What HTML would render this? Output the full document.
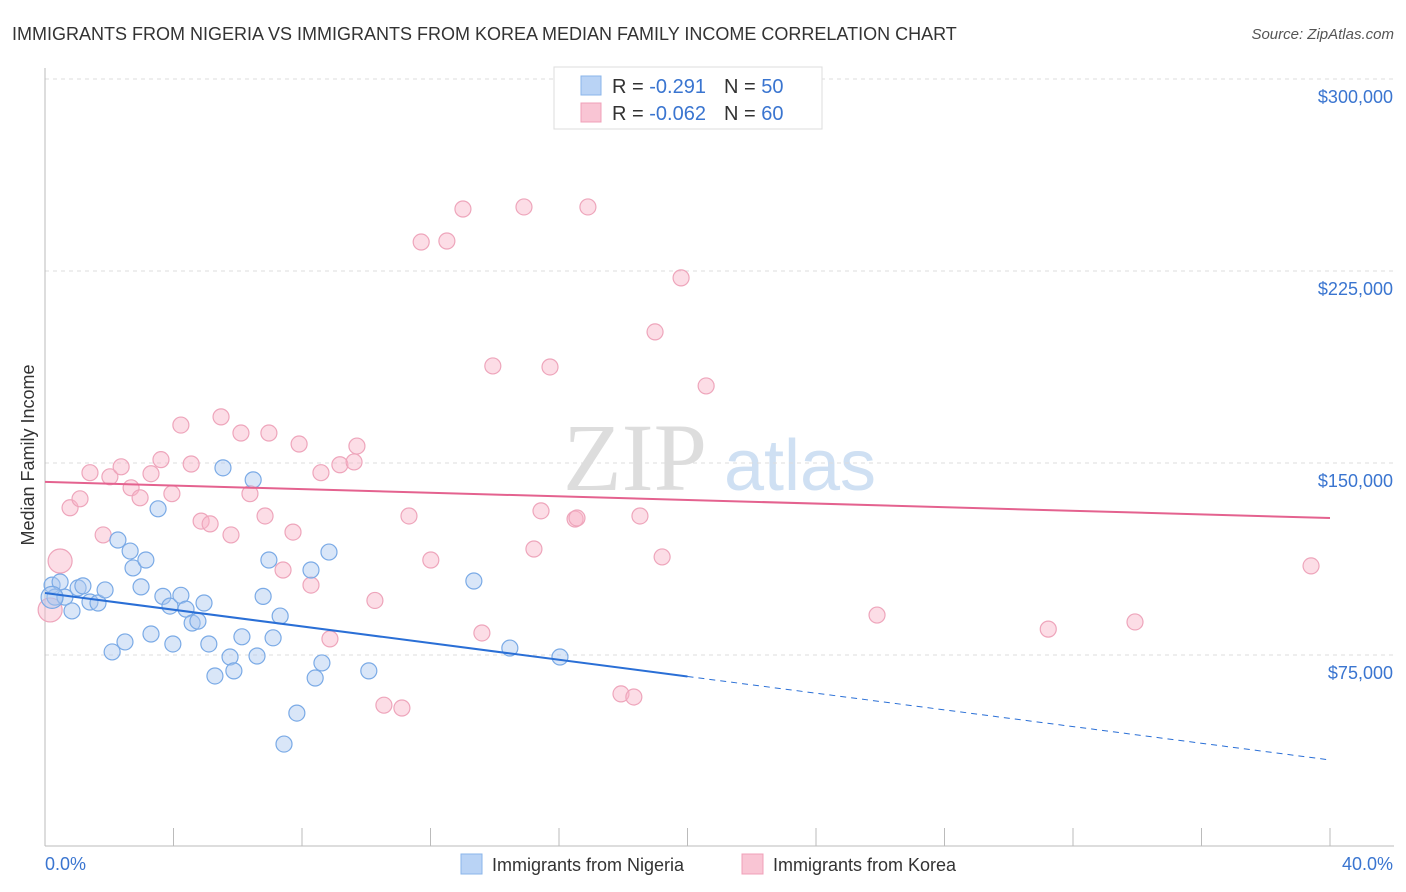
<!DOCTYPE html>
<html><head><meta charset="utf-8"><style>
body{margin:0;background:#fff;font-family:"Liberation Sans",sans-serif;}
svg{display:block}
</style></head><body>
<svg id="chart" width="1406" height="892">
<text x="12" y="40" font-size="18" fill="#333">IMMIGRANTS FROM NIGERIA VS IMMIGRANTS FROM KOREA MEDIAN FAMILY INCOME CORRELATION CHART</text>
<text x="1394" y="39" font-size="15" fill="#555" font-style="italic" text-anchor="end">Source: ZipAtlas.com</text>
<text x="635" y="490" font-size="96" fill="#ddd" font-family="Liberation Serif,serif" text-anchor="middle">ZIP</text>
<text x="800" y="490" font-size="72" fill="#cfe0f3" text-anchor="middle">atlas</text>
<text transform="translate(34,455) rotate(-90)" font-size="18" fill="#333" text-anchor="middle">Median Family Income</text>
<g id="grid"></g><g id="axes"></g><g id="marks"></g>
<g>
<rect x="554" y="67" width="268" height="62" fill="#fff" stroke="#ddd"/>
<rect x="581" y="76" width="20" height="19" fill="#b9d3f5" stroke="#8ab4ea"/>
<rect x="581" y="103" width="20" height="19" fill="#f9c5d4" stroke="#f0a0b8"/>
<text x="612" y="93" font-size="20" fill="#333">R = <tspan fill="#3a75d0"> -0.291</tspan><tspan dx="18">N = </tspan><tspan fill="#3a75d0">50</tspan></text>
<text x="612" y="120" font-size="20" fill="#333">R = <tspan fill="#3a75d0">-0.062</tspan><tspan dx="18">N = </tspan><tspan fill="#3a75d0">60</tspan></text>
</g>
<g>
<rect x="461" y="854" width="21" height="20" fill="#b9d3f5" stroke="#8ab4ea"/>
<text x="492" y="871" font-size="18" fill="#333">Immigrants from Nigeria</text>
<rect x="742" y="854" width="21" height="20" fill="#f9c5d4" stroke="#f0a0b8"/>
<text x="773" y="871" font-size="18" fill="#333">Immigrants from Korea</text>
</g>
</svg>
<script>
const blueX=[0.22,0.47,0.31,0.62,0.84,1.03,1.18,1.4,1.65,1.87,2.09,2.27,2.49,2.65,2.74,2.99,3.14,3.3,3.52,3.67,3.89,3.98,4.23,4.39,4.58,4.76,4.95,5.1,5.29,5.54,5.76,5.88,6.13,6.48,6.6,6.79,6.97,7.1,7.32,7.44,7.84,8.28,8.41,8.62,8.84,10.08,13.35,14.47,16.03,0.22];
const blueY=[102.3,103.5,97.6,97.6,92.2,101.2,102,95.7,95.3,100.4,76.2,119.9,80.1,115.6,109,101.6,112.1,83.2,132.1,97.9,94.1,79.3,98.3,92.9,87.5,88.2,95.3,79.3,66.8,148.1,74.2,68.8,82.1,143.4,74.6,97.9,112.1,81.7,90.2,40.2,52.3,108.2,66,71.9,115.2,68.8,103.9,77.7,74.2,97.5];
const pinkX=[0.16,0.47,0.78,1.09,1.4,1.81,2.02,2.37,2.68,2.96,3.3,3.61,3.95,4.23,4.55,4.86,5.14,5.48,5.79,6.1,6.38,6.85,6.97,7.41,7.72,7.91,8.28,8.59,8.87,9.18,9.62,9.71,10.27,10.55,11.11,11.33,11.71,12.01,12.51,13.01,13.6,13.94,14.91,15.22,15.44,15.72,16.5,16.56,16.9,17.93,18.33,18.52,18.99,19.21,19.8,20.58,25.9,31.23,33.93,39.41];
const pinkY=[92.6,111.7,132.5,136,146.2,121.9,144.6,148.5,140.3,136.4,145.8,151.3,138,164.8,149.6,127.3,126.2,168,121.9,161.7,138,129.3,161.7,108.2,123,157.4,102.3,146.2,81.3,149.3,150.4,156.6,96.3,55.4,54.3,129.3,236.3,112.1,236.7,249.2,83.6,187.9,250,116.4,131.3,187.5,128.1,128.5,250,59.8,58.6,129.3,201.2,113.3,222.3,180.1,90.6,85.1,87.9,109.8];
const blueTrend=[99.2,34.0]; const pinkTrend=[142.6,128.5];
const yTicks=[75000,150000,225000,300000];
const yTickLabels=["$75,000","$150,000","$225,000","$300,000"];
const sx=v=>45+v/40*1285, sy=v=>847-v*1000/390.6;
const NS="http://www.w3.org/2000/svg";
function mk(t,a,p){const e=document.createElementNS(NS,t);for(const k in a)e.setAttribute(k,a[k]);p.appendChild(e);return e;}
const grid=document.getElementById('grid'),axes=document.getElementById('axes'),marks=document.getElementById('marks');
yTicks.forEach((t,i)=>{const y=sy(t/1000);
const l=mk('line',{x1:45,x2:1394,y1:y,y2:y,stroke:'#ddd','stroke-dasharray':'4,4'},grid);


const tx=mk('text',{x:1393,y:y+24,'font-size':18,fill:'#3a75d0','text-anchor':'end'},axes);tx.textContent=yTickLabels[i];

});
const t0=mk('line',{x1:45,x2:1394,y1:79,y2:79,stroke:'#ddd','stroke-dasharray':'4,4'},grid);
mk('line',{x1:45,x2:45,y1:68,y2:846,stroke:'#bbb'},axes);
mk('line',{x1:45,x2:1394,y1:846,y2:846,stroke:'#bbb'},axes);
for(let i=0;i<=10;i++){const x=45+i*128.5;mk('line',{x1:x,x2:x,y1:828,y2:846,stroke:'#bbb'},axes);}
const xl=mk('text',{x:45,y:870,'font-size':18,fill:'#3a75d0'},axes);xl.textContent='0.0%';


const xr=mk('text',{x:1393,y:870,'font-size':18,fill:'#3a75d0','text-anchor':'end'},axes);xr.textContent='40.0%';


pinkX.forEach((x,i)=>{const c=mk('circle',{cx:sx(x),cy:sy(pinkY[i]),r:i<2?12:8,fill:'rgba(248,180,200,0.45)',stroke:'#eea5bb','stroke-width':1.2},marks);

});
blueX.forEach((x,i)=>{const c=mk('circle',{cx:sx(x),cy:sy(blueY[i]),r:i==49?11:8,fill:'rgba(170,200,240,0.45)',stroke:'#7aaae6','stroke-width':1.2},marks);

});
const by=x=>blueTrend[0]+(blueTrend[1]-blueTrend[0])*x/40;
const b1=mk('line',{x1:sx(0),y1:sy(by(0)),x2:sx(20),y2:sy(by(20)),stroke:'#2a6fd6','stroke-width':2},marks);


const b2=mk('line',{x1:sx(20),y1:sy(by(20)),x2:sx(40),y2:sy(by(40)),stroke:'#2a6fd6','stroke-width':1,'stroke-dasharray':'6,5'},marks);


const p1=mk('line',{x1:sx(0),y1:sy(pinkTrend[0]),x2:sx(40),y2:sy(pinkTrend[1]),stroke:'#e4628f','stroke-width':2},marks);


</script>
</body></html>
